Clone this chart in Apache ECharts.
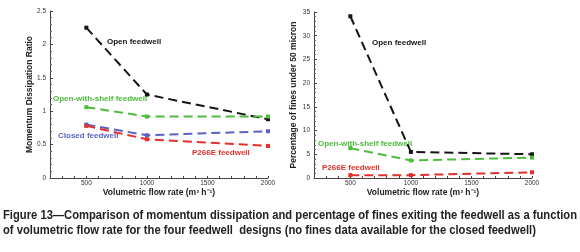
<!DOCTYPE html>
<html>
<head>
<meta charset="utf-8">
<script src="https://cdn.jsdelivr.net/npm/echarts@6/dist/echarts.min.js"></script>
<style>
  html, body { margin: 0; padding: 0; background: #fff; }
  #chart { width: 580px; height: 252px; }
</style>
</head>
<body>
<div id="chart"></div>
<script>
// flow rates, m3/h
const flowRates = [500, 1000, 2000];

// momentum dissipation ratio
const mdOpen = [2.25, 1.25, 0.88];
const mdShelf = [1.06, 0.92, 0.92];
const mdClosed = [0.80, 0.64, 0.70];
const mdP266E = [0.78, 0.58, 0.48];

// % fines under 50 micron (no data for closed feedwell)
const finesOpen = [34.1, 5.5, 5.0];
const finesShelf = [6.3, 3.7, 4.3];
const finesP266E = [0.6, 0.6, 1.2];

const captionLines = [
  "Figure 13—Comparison of momentum dissipation and percentage of fines exiting the feedwell as a function",
  "of volumetric flow rate for the four feedwell  designs (no fines data available for the closed feedwell)",
];

const COLORS = {
  open: "#151515",
  shelf: "#4dbb3c",
  closed: "#5a63c4",
  p266e: "#e2302b",
};

const chart = echarts.init(document.getElementById("chart"), null, { renderer: "canvas" });

const pair = (ys) => flowRates.map((x, i) => [x, ys[i]]);

function line(name, ys, color, grid) {
  return {
    name,
    type: "line",
    xAxisIndex: grid,
    yAxisIndex: grid,
    data: pair(ys),
    symbol: "rect",
    symbolSize: 4,
    itemStyle: { color },
    lineStyle: { color, width: 2, type: [9, 5] },
    z: 3,
  };
}

const axisText = { color: "#333", fontFamily: "Liberation Sans, Arial", fontSize: 6.5 };
const nameText = { color: "#222", fontFamily: "Liberation Sans, Arial", fontSize: 8.5, fontWeight: "bold" };

function xAxis(grid) {
  return {
    type: "value",
    gridIndex: grid,
    min: 200,
    max: 2000,
    interval: 100,
    name: "Volumetric flow rate (m³ h⁻¹)",
    nameLocation: "middle",
    nameGap: 10,
    nameMoveOverlap: false,
    nameTextStyle: nameText,
    axisLine: { lineStyle: { color: "#444", width: 1 } },
    axisTick: { inside: true, length: 2, lineStyle: { color: "#444" } },
    axisLabel: {
      ...axisText,
      margin: 2,
      showMinLabel: false,
      formatter: (v) => (v % 500 === 0 ? String(v) : ""),
    },
    splitLine: { show: false },
  };
}

function yAxis(grid, max, interval, name, gap) {
  return {
    type: "value",
    gridIndex: grid,
    min: 0,
    max,
    interval,
    name,
    nameLocation: "middle",
    nameGap: gap,
    nameMoveOverlap: false,
    nameTextStyle: nameText,
    axisLine: { show: true, lineStyle: { color: "#444", width: 1 } },
    axisTick: { inside: true, length: 3, lineStyle: { color: "#444" } },
    minorTick: { show: true, splitNumber: 5, length: 2, lineStyle: { color: "#666" } },
    axisLabel: { ...axisText, margin: 4 },
    splitLine: { show: false },
  };
}

function tag(text, left, top, color) {
  return {
    type: "text",
    left,
    top,
    style: { text, fill: color, font: "bold 8px Liberation Sans, Arial" },
  };
}

// no narrow font installed: squeeze the caption horizontally to fit the original width
const captionFont = "bold 13px 'Liberation Sans', Arial";
const ctx = document.createElement("canvas").getContext("2d");
ctx.font = captionFont;
const captionScale = 574 / ctx.measureText(captionLines[0]).width;

chart.setOption({
  animation: false,
  backgroundColor: "#fff",
  grid: [
    { left: 50, top: 11, width: 218, height: 167 },
    { left: 314, top: 12, width: 218, height: 166 },
  ],
  xAxis: [xAxis(0), xAxis(1)],
  yAxis: [
    yAxis(0, 2.5, 0.5, "Momentum Dissipation Ratio", 16),
    yAxis(1, 35, 5, "Percentage of fines under 50 micron", 16),
  ],
  series: [
    line("Open feedwell", mdOpen, COLORS.open, 0),
    line("Open-with-shelf feedwell", mdShelf, COLORS.shelf, 0),
    line("Closed feedwell", mdClosed, COLORS.closed, 0),
    line("P266E feedwell", mdP266E, COLORS.p266e, 0),
    line("Open feedwell", finesOpen, COLORS.open, 1),
    line("Open-with-shelf feedwell", finesShelf, COLORS.shelf, 1),
    line("P266E feedwell", finesP266E, COLORS.p266e, 1),
  ],
  graphic: [
    tag("Open feedwell", 107, 38, COLORS.open),
    tag("Open-with-shelf feedwell", 53, 95, COLORS.shelf),
    tag("Closed feedwell", 58, 132, COLORS.closed),
    tag("P266E feedwell", 192, 149, COLORS.p266e),
    tag("Open feedwell", 372, 39, COLORS.open),
    tag("Open-with-shelf feedwell", 318, 140, COLORS.shelf),
    tag("P266E feedwell", 322, 164, COLORS.p266e),
    {
      type: "group",
      x: 3,
      y: 209,
      scaleX: captionScale,
      children: captionLines.map((text, i) => ({
        type: "text",
        x: 0,
        y: i * 15,
        style: { text, fill: "#222", font: captionFont },
      })),
    },
  ],
});
</script>
</body>
</html>
